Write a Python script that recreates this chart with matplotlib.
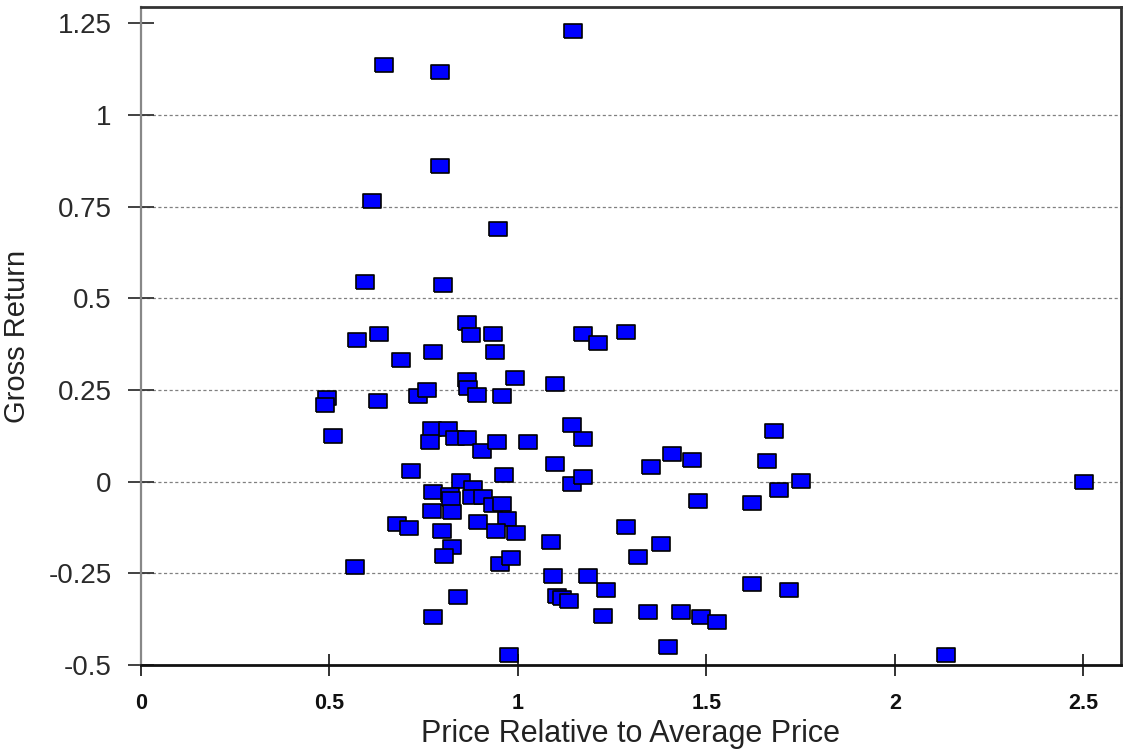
import numpy as np
import matplotlib
matplotlib.use('Agg')
import matplotlib.pyplot as plt
from matplotlib.ticker import FixedLocator, FuncFormatter

plt.rcParams['font.family'] = ['Liberation Sans', 'DejaVu Sans']

# values
price_rel = [
    1.145, 0.644, 0.793, 0.793, 0.612, 0.946, 0.594, 0.801,
    0.573, 0.631, 0.689, 0.774, 0.864, 0.875, 0.933, 0.939,
    1.172, 1.212, 1.286,
    0.493, 0.488, 0.509, 0.628, 0.734, 0.758, 0.864, 0.867, 0.891, 0.957, 0.992,
    1.098, 0.771, 0.814, 0.766, 0.832, 0.864, 0.904, 0.944, 1.026,
    1.143, 1.174, 1.098, 0.716, 0.848, 0.962, 1.143, 1.174,
    1.352, 1.410, 1.463, 1.680, 1.662, 1.694, 1.752, 1.477, 1.620, 2.503,
    0.774, 0.819, 0.822, 0.880, 0.877, 0.907, 0.933, 0.957,
    0.771, 0.824, 0.679, 0.710, 0.798, 0.893, 0.970, 0.941, 0.994,
    0.824, 0.803, 0.952, 0.981, 0.567, 1.087, 1.286, 1.380, 1.320,
    1.092, 1.185, 1.233, 1.103, 1.116, 1.135, 0.840, 0.774, 1.225,
    1.344, 1.434, 1.485, 1.527, 1.397, 1.622, 1.718, 0.976, 2.137,
]
gross_ret = [
    1.230, 1.137, 1.118, 0.862, 0.766, 0.690, 0.545, 0.537,
    0.387, 0.404, 0.333, 0.355, 0.434, 0.401, 0.404, 0.355,
    0.404, 0.379, 0.409,
    0.229, 0.210, 0.125, 0.221, 0.235, 0.251, 0.278, 0.256, 0.237, 0.235, 0.284,
    0.267, 0.145, 0.145, 0.109, 0.120, 0.120, 0.085, 0.109, 0.109,
    0.155, 0.117, 0.049, 0.030, 0.003, 0.019, -0.005, 0.014,
    0.041, 0.076, 0.060, 0.139, 0.057, -0.022, 0.003, -0.052, -0.057, 0.000,
    -0.027, -0.035, -0.046, -0.016, -0.041, -0.041, -0.063, -0.060,
    -0.079, -0.082, -0.115, -0.125, -0.134, -0.109, -0.101, -0.134, -0.139,
    -0.177, -0.202, -0.224, -0.207, -0.232, -0.164, -0.123, -0.170, -0.205,
    -0.256, -0.256, -0.295, -0.311, -0.316, -0.325, -0.314, -0.368, -0.365,
    -0.355, -0.355, -0.368, -0.382, -0.450, -0.278, -0.295, -0.472, -0.472,
]

x_ticks = [0, 0.5, 1, 1.5, 2, 2.5]
y_ticks = [-0.5, -0.25, 0, 0.25, 0.5, 0.75, 1, 1.25]

fig = plt.figure(figsize=(11.24, 7.51), dpi=100)
ax = fig.add_axes([0.1254, 0.1145, 0.8719, 0.8762])

box = [(-1, -0.72), (1, -0.72), (1, 0.72), (-1, 0.72), (-1, -0.72)]
ax.plot(price_rel, gross_ret, linestyle='none', marker=box, markersize=13.5,
        markerfacecolor='#0000ff', markeredgecolor='black', markeredgewidth=1.2,
        zorder=3)

ax.set_xlim(0, 2.6)
ax.set_ylim(-0.5, 1.295)
ax.xaxis.set_major_locator(FixedLocator(x_ticks))
ax.yaxis.set_major_locator(FixedLocator(y_ticks))
ax.xaxis.set_major_formatter(FuncFormatter(lambda v, p: '%g' % v))
ax.yaxis.set_major_formatter(FuncFormatter(lambda v, p: '%g' % v))

ax.yaxis.grid(True, color='#808080', linestyle=(0, (2.5, 2)), linewidth=0.9)
ax.get_ygridlines()[-1].set_visible(False)
ax.get_ygridlines()[0].set_visible(False)
ax.set_axisbelow(True)

ax.tick_params(axis='y', direction='inout', length=19, width=1.3, pad=11.5,
               labelsize=20, labelcolor='#2a2a2a', color='#333333')
ax.tick_params(axis='x', direction='inout', length=16, width=1.3, pad=12,
               labelsize=15.5, labelcolor='#111111', color='#222222')
for lab in ax.get_xticklabels():
    lab.set_fontweight('bold')

ax.spines['left'].set_color('#888888')
ax.spines['left'].set_linewidth(1.6)
ax.spines['top'].set_color('#333333')
ax.spines['top'].set_linewidth(2)
ax.spines['right'].set_color('#333333')
ax.spines['right'].set_linewidth(2)
ax.spines['bottom'].set_color('#111111')
ax.spines['bottom'].set_linewidth(2)

ax.set_xlabel('Price Relative to Average Price', fontsize=22, color='#222222')
ax.set_ylabel('Gross Return', fontsize=21, color='#222222')
ax.xaxis.set_label_coords(0.5, -0.082)
ax.yaxis.set_label_coords(-0.112, 0.5)

plt.savefig('out.png', dpi=100)
plt.close()
